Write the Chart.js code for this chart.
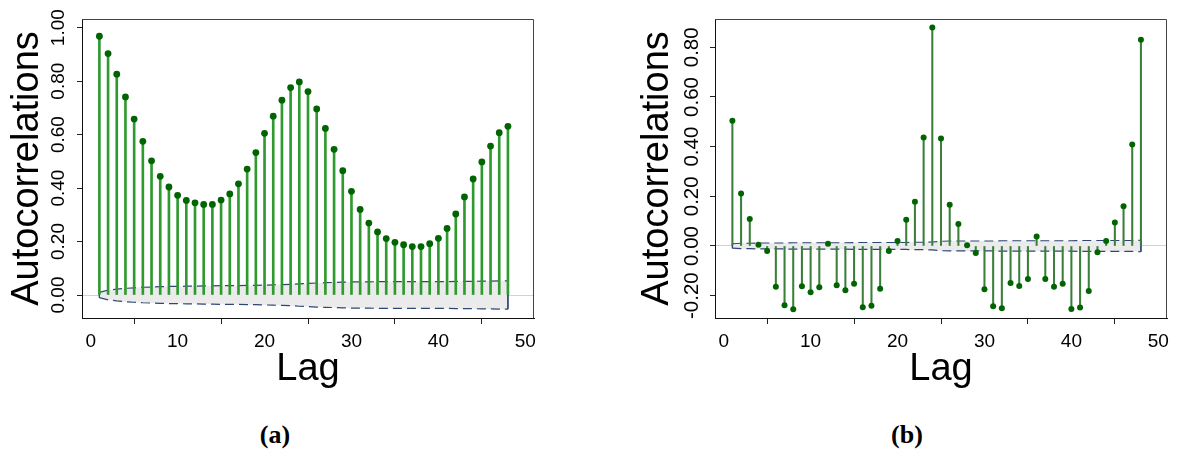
<!DOCTYPE html>
<html>
<head>
<meta charset="utf-8">
<script src="https://cdn.jsdelivr.net/npm/chart.js@4.4.1/dist/chart.umd.min.js"></script>
<style>
  html, body { margin: 0; padding: 0; background: #fff; }
  body { width: 1178px; height: 457px; position: relative; overflow: hidden; }
  .panel { position: absolute; top: 0; width: 589px; height: 400px; }
  .cap { position: absolute; top: 420px; width: 60px; margin-left: -30px; text-align: center;
         font-family: "Liberation Serif", "DejaVu Serif", serif; font-weight: bold; font-size: 26px; color: #000; }
</style>
</head>
<body>
<div class="panel" style="left:0"><canvas id="chartA" width="589" height="400"></canvas></div>
<div class="panel" style="left:589px"><canvas id="chartB" width="589" height="400"></canvas></div>
<div class="cap" style="left:275px">(a)</div>
<div class="cap" style="left:907px">(b)</div>
<script>
// ---------- data ----------
const lags = [1,2,3,4,5,6,7,8,9,10,11,12,13,14,15,16,17,18,19,20,21,22,23,24,
              25,26,27,28,29,30,31,32,33,34,35,36,37,38,39,40,41,42,43,44,45,46,47,48];

const acfA = [0.968,0.903,0.826,0.741,0.658,0.575,0.502,0.444,0.404,0.373,0.354,0.345,
              0.339,0.339,0.355,0.378,0.416,0.471,0.533,0.605,0.669,0.729,0.776,0.797,
              0.761,0.696,0.623,0.545,0.465,0.388,0.320,0.269,0.236,0.211,0.197,0.188,
              0.181,0.181,0.192,0.212,0.249,0.303,0.367,0.434,0.498,0.557,0.607,0.631];

const bandA = [0.010,0.018,0.022,0.025,0.027,0.029,0.030,0.031,0.032,0.032,0.033,0.033,
               0.034,0.034,0.035,0.035,0.035,0.036,0.036,0.037,0.038,0.039,0.040,0.042,
               0.043,0.045,0.046,0.047,0.048,0.049,0.049,0.049,0.050,0.050,0.050,0.050,
               0.050,0.050,0.050,0.050,0.050,0.051,0.051,0.051,0.052,0.052,0.053,0.053];

const acfB = [0.504,0.211,0.109,0.005,-0.020,-0.164,-0.239,-0.255,-0.162,-0.186,-0.166,0.009,
              -0.158,-0.178,-0.152,-0.247,-0.241,-0.172,-0.020,0.020,0.106,0.178,0.437,0.880,
              0.433,0.166,0.089,0.003,-0.028,-0.174,-0.243,-0.251,-0.149,-0.161,-0.133,0.038,
              -0.133,-0.164,-0.152,-0.254,-0.248,-0.181,-0.025,0.020,0.095,0.160,0.409,0.830];

const bandB = [0.009,0.011,0.011,0.012,0.012,0.012,0.012,0.013,0.013,0.013,0.013,0.013,
               0.013,0.013,0.014,0.014,0.014,0.014,0.014,0.014,0.014,0.015,0.015,0.016,
               0.019,0.020,0.020,0.020,0.020,0.020,0.020,0.021,0.021,0.021,0.021,0.021,
               0.021,0.021,0.021,0.021,0.022,0.022,0.022,0.022,0.022,0.022,0.022,0.023];

const xTicks  = [0,10,20,30,40,50];
const yTicksA = [0.00,0.20,0.40,0.60,0.80,1.00];
const yTicksB = [-0.20,0.00,0.20,0.40,0.60,0.80];

const yTitle = 'Autocorrelations';
const xTitle = 'Lag';

// ---------- style ----------
const FAMILY = '"Liberation Sans", Arial, Helvetica, sans-serif';
Chart.defaults.font.family = FAMILY;
Chart.defaults.color = '#000';
const TICK_SIZE = 19, TITLE_SIZE = 38;
const NAVY = '#2e4676';
const BAND_FILL = '#ebebeb';
const DOT = '#006400';

function textWidth(t, size) {
  const c = document.createElement('canvas').getContext('2d');
  c.font = `normal normal ${size}px ${FAMILY}`;
  return c.measureText(t).width;
}

const framePlugin = {
  id: 'frame',
  beforeDatasetsDraw(chart) {
    const a = chart.chartArea, ctx = chart.ctx;
    ctx.save();
    ctx.strokeStyle = '#444';
    ctx.lineWidth = 1;
    ctx.beginPath();
    ctx.moveTo(a.left, a.top + 0.5);
    ctx.lineTo(a.right - 0.5, a.top + 0.5);
    ctx.lineTo(a.right - 0.5, a.bottom);
    ctx.stroke();
    ctx.restore();
  }
};

function makeChart(id, o) {
  const fmt = v => Number(v).toFixed(2);
  const labels = o.yTicks.map(fmt);
  const widest = Math.max(...labels.map(l => textWidth(l, o.yTickSize)));
  const TL = 5;
  const yPad = o.axisW - TL - widest / 2 - o.yLabelX;

  const pts = (vals) => lags.map((x, i) => ({x, y: vals[i]}));
  const upper = pts(o.band);
  const lower = pts(o.band.map(v => -v));
  const n = lags.length - 1;

  new Chart(document.getElementById(id), {
    type: 'bar',
    data: {
      datasets: [
        { type: 'line', data: upper, borderColor: NAVY, borderWidth: 1.2, borderDash: [9, 5],
          pointRadius: 0, fill: '+1', backgroundColor: BAND_FILL, order: 5, tension: 0 },
        { type: 'line', data: lower, borderColor: NAVY, borderWidth: 1.2, borderDash: [9, 5],
          pointRadius: 0, fill: false, order: 4, tension: 0 },
        { type: 'line', data: [upper[0], lower[0]], borderColor: NAVY, borderWidth: 1,
          pointRadius: 0, fill: false, order: 4 },
        { type: 'line', data: [upper[n], lower[n]], borderColor: NAVY, borderWidth: 1,
          pointRadius: 0, fill: false, order: 4 },
        { type: 'bar', data: pts(o.acf), backgroundColor: o.stem, barThickness: o.stemW,
          borderWidth: 0, order: 2 },
        { type: 'line', data: pts(o.acf), showLine: false, pointRadius: o.dotR,
          pointBackgroundColor: DOT, pointBorderWidth: 0, order: 1 }
      ]
    },
    options: {
      responsive: false,
      animation: false,
      events: [],
      layout: { padding: { top: 19, left: 0, right: o.padRight, bottom: 0 } },
      plugins: { legend: { display: false }, tooltip: { enabled: false } },
      scales: {
        x: {
          type: 'linear', offset: false, min: -1, max: 51,
          afterBuildTicks: s => { s.ticks = xTicks.map(v => ({value: v})); },
          afterFit: s => { s.height = 400 - 318; },
          grid: { drawOnChartArea: false, tickLength: 6, tickColor: '#222' },
          border: { display: true, color: '#111', width: 1 },
          ticks: { autoSkip: false, maxRotation: 0, padding: 6, font: { size: TICK_SIZE }, color: '#000',
                   callback: v => String(v) },
          title: { display: true, text: xTitle, font: { size: TITLE_SIZE, lineHeight: 1 },
                   padding: { top: 0, bottom: 11 }, color: '#000' }
        },
        y: {
          type: 'linear', min: o.yMin, max: o.yMax,
          afterBuildTicks: s => { s.ticks = o.yTicks.map(v => ({value: v})); },
          afterFit: s => { s.width = o.axisW; },
          grid: {
            color: c => (c.tick && Math.abs(c.tick.value) < 1e-9) ? '#d2d2d2' : 'rgba(0,0,0,0)',
            tickColor: '#222', tickLength: TL, lineWidth: 1
          },
          border: { display: true, color: '#111', width: 1 },
          ticks: { autoSkip: false, minRotation: 90, maxRotation: 90, crossAlign: 'center',
                   padding: yPad, font: { size: o.yTickSize }, color: '#000', callback: fmt },
          title: { display: true, text: yTitle, font: { size: TITLE_SIZE, lineHeight: 1 },
                   padding: { top: o.titlePad, bottom: 0 }, color: '#000' }
        }
      }
    },
    plugins: [framePlugin]
  });
}

makeChart('chartA', {
  acf: acfA, band: bandA, yTicks: yTicksA, yMin: -0.086, yMax: 1.0325,
  axisW: 82, padRight: 55, yLabelX: 59, titlePad: 9, yTickSize: 19,
  stem: '#2f9a2f', stemW: 2, dotR: 3.4
});
makeChart('chartB', {
  acf: acfB, band: bandB, yTicks: yTicksB, yMin: -0.29, yMax: 0.914,
  axisW: 126, padRight: 11, yLabelX: 103, titlePad: 50, yTickSize: 20.5,
  stem: '#3b7f3b', stemW: 1.4, dotR: 3.0
});
</script>
</body>
</html>
